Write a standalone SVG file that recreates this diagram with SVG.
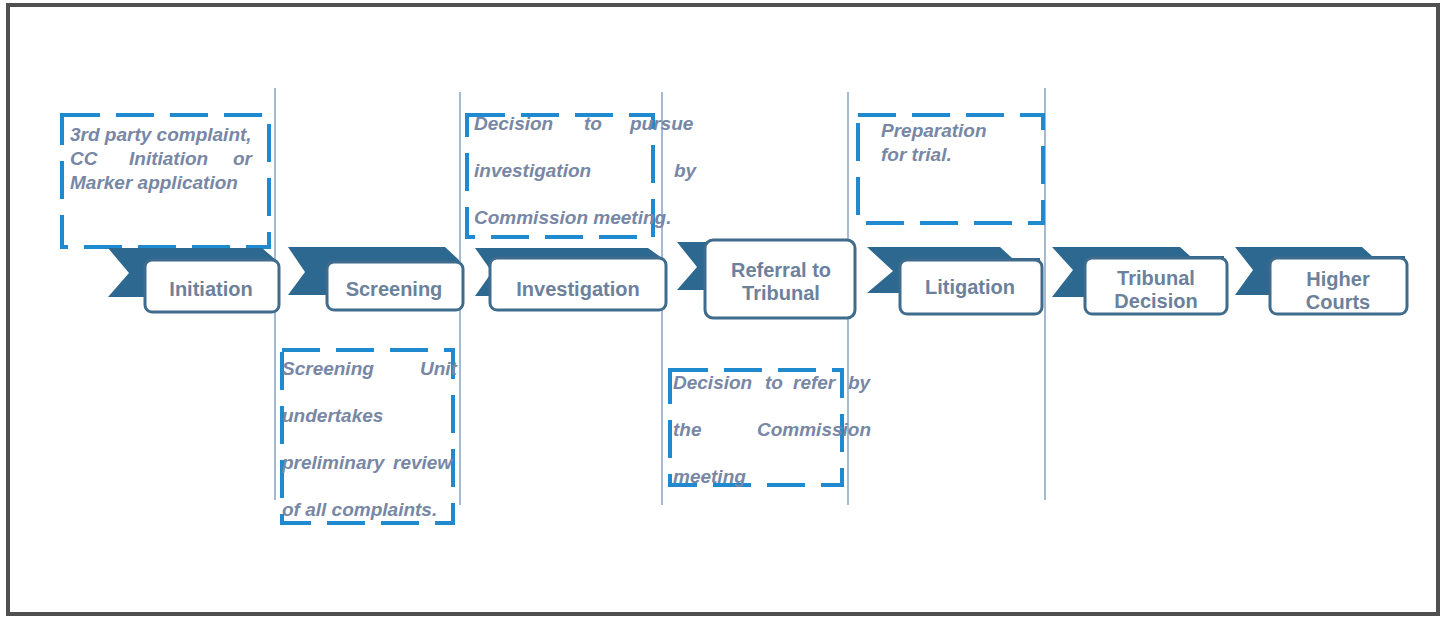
<svg xmlns="http://www.w3.org/2000/svg" width="1449" height="618" viewBox="0 0 1449 618">
<style>
.frame{fill:#fff;stroke:#505050;stroke-width:4}
.vl{stroke:#a3bad0;stroke-width:2}
.rib{fill:#2d6890}
.box{fill:#fff;stroke:#3f6c8c;stroke-width:3}
.lbl{font-family:"Liberation Sans",Arial,sans-serif;font-size:20px;font-weight:bold;fill:#6c819b;text-anchor:middle}
.dash{fill:none;stroke:#1f8ad0;stroke-width:4;stroke-dasharray:38 16}
.note{font-family:"Liberation Sans",Arial,sans-serif;font-size:19px;font-weight:bold;font-style:italic;fill:#7787a5}
</style>
<rect class="frame" x="8" y="5" width="1430" height="609"/>
<g id="connectors">
<line class="vl" x1="275" y1="88" x2="275" y2="500"/>
<line class="vl" x1="460" y1="92" x2="460" y2="505"/>
<line class="vl" x1="662" y1="92" x2="662" y2="505"/>
<line class="vl" x1="848" y1="92" x2="848" y2="505"/>
<line class="vl" x1="1045" y1="88" x2="1045" y2="500"/>
</g>
<g id="note-initiation">
<rect class="dash" x="62" y="115" width="207" height="132"/>
<text class="note"><tspan x="70" y="141">3rd party complaint,</tspan><tspan x="70" y="165">CC</tspan><tspan x="129" y="165">Initiation</tspan><tspan x="233" y="165">or</tspan><tspan x="70" y="189">Marker application</tspan></text>
</g>
<g id="note-screening">
<rect class="dash" x="282" y="350" width="171" height="173"/>
<text class="note"><tspan x="282" y="375">Screening</tspan><tspan x="420" y="375">Unit</tspan><tspan x="282" y="422">undertakes</tspan><tspan x="282" y="469">preliminary</tspan><tspan x="393" y="469">review</tspan><tspan x="282" y="516">of all complaints.</tspan></text>
</g>
<g id="note-investigation">
<rect class="dash" x="467" y="115" width="186" height="122"/>
<text class="note"><tspan x="474" y="130">Decision</tspan><tspan x="584" y="130">to</tspan><tspan x="630" y="130">pursue</tspan><tspan x="474" y="177">investigation</tspan><tspan x="674" y="177">by</tspan><tspan x="474" y="224">Commission meeting.</tspan></text>
</g>
<g id="note-referral">
<rect class="dash" x="670" y="370" width="172" height="115"/>
<text class="note"><tspan x="673" y="389">Decision</tspan><tspan x="765" y="389">to</tspan><tspan x="793" y="389">refer</tspan><tspan x="848" y="389">by</tspan><tspan x="673" y="436">the</tspan><tspan x="757" y="436">Commission</tspan><tspan x="673" y="483">meeting</tspan></text>
</g>
<g id="note-litigation">
<rect class="dash" x="858" y="115" width="185" height="108"/>
<text class="note"><tspan x="881" y="137">Preparation</tspan><tspan x="881" y="161">for trial.</tspan></text>
</g>
<g id="node-initiation">
<polygon class="rib" points="108,248 262,248 276,260 276,297 108,297 129,273"/>
<rect class="box" x="145" y="260" width="134" height="52" rx="7"/>
<text class="lbl" x="211" y="296">Initiation</text>
</g>
<g id="node-screening">
<polygon class="rib" points="288,247 445,247 459,260 459,295 288,295 305,272"/>
<rect class="box" x="327" y="262" width="136" height="48" rx="7"/>
<text class="lbl" x="394" y="296">Screening</text>
</g>
<g id="node-investigation">
<polygon class="rib" points="475,248 648,248 662,258 662,296 475,296 492,272"/>
<rect class="box" x="490" y="258" width="176" height="52" rx="7"/>
<text class="lbl" x="578" y="296">Investigation</text>
</g>
<g id="node-referral">
<polygon class="rib" points="677,242 840,242 850,250 850,290 677,290 697,267"/>
<rect class="box" x="705" y="240" width="150" height="78" rx="8"/>
<text class="lbl"><tspan x="781" y="277">Referral to</tspan><tspan x="781" y="300">Tribunal</tspan></text>
</g>
<g id="node-litigation">
<polygon class="rib" points="867,247 1000,247 1012,258 1040,258 1040,293 867,293 893,271"/>
<rect class="box" x="900" y="260" width="142" height="54" rx="7"/>
<text class="lbl" x="970" y="294">Litigation</text>
</g>
<g id="node-tribunal">
<polygon class="rib" points="1052,247 1180,247 1190,256 1224,256 1224,297 1052,297 1073,270"/>
<rect class="box" x="1085" y="258" width="142" height="56" rx="7"/>
<text class="lbl"><tspan x="1156" y="285">Tribunal</tspan><tspan x="1156" y="308">Decision</tspan></text>
</g>
<g id="node-higher">
<polygon class="rib" points="1235,247 1362,247 1372,256 1405,256 1405,295 1235,295 1253,270"/>
<rect class="box" x="1270" y="258" width="137" height="56" rx="7"/>
<text class="lbl"><tspan x="1338" y="286">Higher</tspan><tspan x="1338" y="309">Courts</tspan></text>
</g>
</svg>
